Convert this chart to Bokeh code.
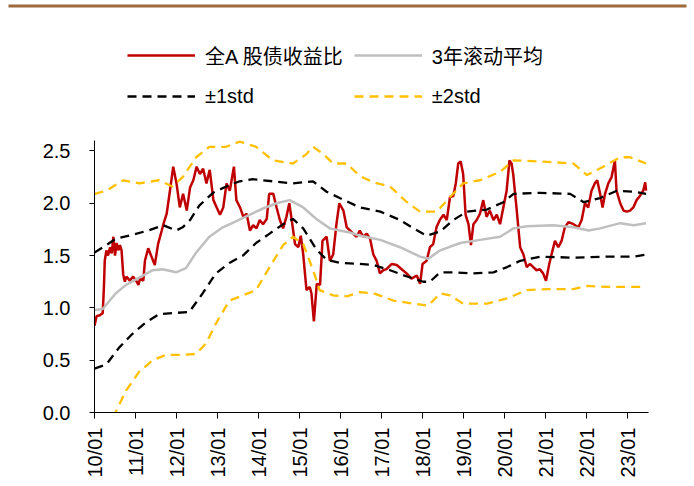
from math import pi
from bokeh.plotting import figure
from bokeh.layouts import column
from bokeh.models import (FixedTicker, Legend, LegendItem, BoxAnnotation,
                          PrintfTickFormatter, Range1d)
from bokeh.embed import file_html
from bokeh.resources import INLINE

# ---------------- data ----------------
year_ticks = [2010, 2011, 2012, 2013, 2014, 2015, 2016, 2017, 2018, 2019, 2020, 2021, 2022, 2023]
year_labels = ["10/01", "11/01", "12/01", "13/01", "14/01", "15/01", "16/01",
               "17/01", "18/01", "19/01", "20/01", "21/01", "22/01", "23/01"]
y_ticks = [0.0, 0.5, 1.0, 1.5, 2.0, 2.5]

# 全A 股债收益比
ratio_t = [2010.00, 2010.05, 2010.13, 2010.20, 2010.23, 2010.25, 2010.29, 2010.33, 2010.38, 2010.42,
           2010.46, 2010.50, 2010.54, 2010.58, 2010.62, 2010.66, 2010.70, 2010.74, 2010.78, 2010.86,
           2010.94, 2011.03, 2011.07, 2011.11, 2011.19, 2011.23, 2011.31, 2011.39, 2011.47, 2011.55,
           2011.64, 2011.68, 2011.76, 2011.84, 2011.92, 2012.00, 2012.08, 2012.16, 2012.25, 2012.33,
           2012.41, 2012.49, 2012.57, 2012.65, 2012.73, 2012.81, 2012.90, 2012.98, 2013.06, 2013.14,
           2013.22, 2013.30, 2013.40, 2013.46, 2013.55, 2013.63, 2013.71, 2013.79, 2013.87, 2013.95,
           2014.03, 2014.11, 2014.20, 2014.26, 2014.36, 2014.44, 2014.52, 2014.60, 2014.68, 2014.75,
           2014.81, 2014.89, 2014.97, 2015.03, 2015.09, 2015.17, 2015.25, 2015.29, 2015.35, 2015.42,
           2015.50, 2015.56, 2015.66, 2015.74, 2015.82, 2015.90, 2015.97, 2016.07, 2016.15, 2016.23,
           2016.31, 2016.39, 2016.47, 2016.55, 2016.64, 2016.72, 2016.80, 2016.88, 2016.96, 2017.04,
           2017.12, 2017.25, 2017.37, 2017.49, 2017.61, 2017.73, 2017.86, 2017.94, 2018.00, 2018.10,
           2018.18, 2018.26, 2018.34, 2018.42, 2018.51, 2018.59, 2018.67, 2018.75, 2018.81, 2018.87,
           2018.93, 2018.99, 2019.05, 2019.12, 2019.18, 2019.24, 2019.32, 2019.40, 2019.48, 2019.56,
           2019.64, 2019.73, 2019.81, 2019.89, 2019.97, 2020.05, 2020.12, 2020.17, 2020.21, 2020.29,
           2020.38, 2020.46, 2020.54, 2020.62, 2020.70, 2020.78, 2020.86, 2020.94, 2021.01, 2021.09,
           2021.17, 2021.23, 2021.31, 2021.39, 2021.47, 2021.56, 2021.68, 2021.80, 2021.88, 2021.96,
           2022.04, 2022.12, 2022.20, 2022.26, 2022.33, 2022.39, 2022.45, 2022.53, 2022.61, 2022.69,
           2022.73, 2022.82, 2022.90, 2022.98, 2023.06, 2023.14, 2023.22, 2023.30, 2023.38, 2023.43,
           2023.45]
ratio_v = [0.83, 0.92, 0.93, 0.95, 1.20, 1.45, 1.55, 1.50, 1.58, 1.52,
           1.68, 1.50, 1.62, 1.55, 1.60, 1.55, 1.32, 1.25, 1.30, 1.26,
           1.30, 1.25, 1.22, 1.28, 1.26, 1.45, 1.57, 1.49, 1.41, 1.61,
           1.74, 1.80, 1.90, 2.12, 2.35, 2.19, 1.96, 2.09, 1.93, 2.15,
           2.22, 2.35, 2.28, 2.33, 2.19, 2.32, 2.03, 1.96, 1.89, 1.96,
           2.19, 2.12, 2.35, 2.03, 1.96, 1.87, 1.90, 1.74, 1.79, 1.76,
           1.84, 1.80, 1.85, 2.09, 2.09, 1.96, 1.84, 1.76, 1.87, 2.00,
           1.84, 1.61, 1.58, 1.69, 1.51, 1.17, 1.20, 1.14, 0.87, 1.23,
           1.22, 1.64, 1.68, 1.45, 1.51, 1.80, 2.00, 1.93, 1.77, 1.74,
           1.71, 1.68, 1.74, 1.68, 1.71, 1.66, 1.51, 1.45, 1.33, 1.36,
           1.37, 1.42, 1.41, 1.37, 1.33, 1.28, 1.31, 1.23, 1.42, 1.45,
           1.58, 1.61, 1.77, 1.84, 1.89, 1.84, 2.06, 2.07, 2.19, 2.38,
           2.40, 2.28, 1.89, 1.80, 1.60, 1.80, 1.84, 1.90, 2.03, 1.87,
           1.93, 1.84, 1.89, 1.80, 1.96, 2.12, 2.41, 2.38, 2.28, 1.96,
           1.58, 1.51, 1.39, 1.42, 1.39, 1.36, 1.37, 1.33, 1.26, 1.42,
           1.55, 1.64, 1.58, 1.64, 1.77, 1.82, 1.80, 1.77, 1.84, 2.00,
           1.96, 2.12, 2.19, 2.22, 2.09, 1.96, 2.09, 2.19, 2.25, 2.41,
           2.12, 2.00, 1.93, 1.92, 1.93, 1.96, 2.03, 2.07, 2.12, 2.20,
           2.12]

# 3年滚动平均
avg_t = [2010.00, 2010.20, 2010.52, 2010.77, 2011.09, 2011.42, 2011.66, 2011.99, 2012.23, 2012.48,
         2012.80, 2013.13, 2013.46, 2013.78, 2014.11, 2014.44, 2014.76, 2015.09, 2015.41, 2015.74,
         2015.98, 2016.23, 2016.48, 2016.97, 2017.45, 2017.94, 2018.14, 2018.43, 2018.92, 2019.40,
         2019.89, 2020.22, 2020.54, 2021.19, 2021.68, 2022.05, 2022.33, 2022.82, 2023.15, 2023.45]
avg_v = [0.98, 0.99, 1.14, 1.22, 1.29, 1.36, 1.37, 1.34, 1.38, 1.53,
         1.68, 1.77, 1.83, 1.89, 1.95, 2.00, 2.03, 1.96, 1.85, 1.76,
         1.74, 1.72, 1.69, 1.65, 1.58, 1.49, 1.47, 1.55, 1.62, 1.65,
         1.68, 1.76, 1.78, 1.79, 1.77, 1.74, 1.76, 1.81, 1.79, 1.81]

# +1std / -1std
up1_t = [2010.00, 2010.29, 2010.52, 2010.94, 2011.31, 2011.68, 2011.99, 2012.15, 2012.33, 2012.56,
         2012.89, 2013.21, 2013.54, 2013.86, 2014.35, 2014.84, 2015.33, 2015.66, 2015.98, 2016.47,
         2016.97, 2017.45, 2017.78, 2018.10, 2018.43, 2018.75, 2019.08, 2019.57, 2019.97, 2020.22,
         2020.87, 2021.60, 2021.93, 2022.33, 2022.74, 2023.15, 2023.45]
up1_v = [1.53, 1.60, 1.66, 1.70, 1.74, 1.79, 1.74, 1.77, 1.84, 1.98,
         2.10, 2.16, 2.21, 2.23, 2.21, 2.19, 2.21, 2.11, 2.05, 1.96,
         1.92, 1.84, 1.76, 1.69, 1.73, 1.84, 1.92, 1.94, 2.01, 2.09,
         2.10, 2.09, 2.01, 2.05, 2.12, 2.11, 2.09]
dn1_t = [2010.00, 2010.29, 2010.60, 2010.92, 2011.25, 2011.57, 2011.90, 2012.31, 2012.64, 2012.96,
         2013.29, 2013.62, 2013.94, 2014.27, 2014.60, 2014.84, 2015.09, 2015.41, 2015.66, 2015.98,
         2016.47, 2016.80, 2017.21, 2017.62, 2018.02, 2018.18, 2018.43, 2018.75, 2019.24, 2019.73,
         2020.06, 2020.38, 2020.87, 2021.68, 2022.49, 2023.15, 2023.45]
dn1_v = [0.42, 0.46, 0.62, 0.75, 0.86, 0.94, 0.95, 0.96, 1.14, 1.33,
         1.43, 1.50, 1.62, 1.71, 1.80, 1.85, 1.76, 1.56, 1.46, 1.43,
         1.42, 1.41, 1.36, 1.30, 1.25, 1.25, 1.34, 1.34, 1.33, 1.34,
         1.39, 1.45, 1.49, 1.48, 1.49, 1.49, 1.51]

# +2std / -2std
up2_t = [2010.00, 2010.29, 2010.70, 2011.09, 2011.57, 2011.90, 2012.15, 2012.48, 2012.80, 2013.21,
         2013.54, 2013.94, 2014.35, 2014.84, 2015.17, 2015.33, 2015.58, 2015.82, 2016.15, 2016.47,
         2016.80, 2017.21, 2017.62, 2017.94, 2018.35, 2018.67, 2018.99, 2019.40, 2019.89, 2020.22,
         2020.87, 2021.68, 2022.01, 2022.41, 2022.82, 2023.06, 2023.45]
up2_v = [2.09, 2.12, 2.22, 2.19, 2.22, 2.16, 2.25, 2.44, 2.54, 2.54,
         2.59, 2.54, 2.41, 2.38, 2.47, 2.54, 2.47, 2.38, 2.38, 2.26,
         2.20, 2.16, 2.01, 1.92, 1.92, 2.06, 2.19, 2.22, 2.30, 2.41,
         2.40, 2.38, 2.27, 2.35, 2.44, 2.44, 2.38]
dn2_t = [2010.45, 2010.77, 2011.09, 2011.42, 2011.74, 2012.07, 2012.48, 2012.72, 2012.96, 2013.29,
         2013.62, 2013.94, 2014.27, 2014.60, 2014.84, 2015.09, 2015.33, 2015.49, 2015.82, 2016.15,
         2016.47, 2016.80, 2017.29, 2017.78, 2018.14, 2018.43, 2018.67, 2018.99, 2019.57, 2020.06,
         2020.54, 2021.03, 2021.68, 2022.01, 2022.49, 2022.98, 2023.45]
dn2_v = [-0.05, 0.21, 0.39, 0.50, 0.55, 0.55, 0.56, 0.66, 0.85, 1.07,
         1.12, 1.17, 1.39, 1.60, 1.68, 1.61, 1.36, 1.17, 1.12, 1.11,
         1.15, 1.14, 1.07, 1.04, 1.02, 1.14, 1.12, 1.04, 1.04, 1.09,
         1.17, 1.18, 1.18, 1.21, 1.20, 1.20, 1.20]

series_labels = ["全A 股债收益比", "3年滚动平均", "±1std", "±2std"]

# ---------------- styles ----------------
W = 692
LEG_H = 120
MAIN_H = 364
RED = dict(line_color="#C00000", line_width=2.5)
GRAY = dict(line_color="#BFBFBF", line_width=2.5)
BLACK = dict(line_color="black", line_width=2.3, line_dash="9 6")
GOLD = dict(line_color="#FFC000", line_width=2.3, line_dash="9 6")

# ---------------- main chart ----------------
p = figure(width=W, height=MAIN_H, output_backend="svg", toolbar_location=None,
           x_range=Range1d(2010.0, 2023.51), y_range=Range1d(0, 2.6),
           min_border_left=94, min_border_right=W - 648, min_border_top=20,
           min_border_bottom=MAIN_H - 20 - 272,
           background_fill_color="white", border_fill_color="white")
p.frame_align = False
p.outline_line_color = None
p.xgrid.visible = False
p.ygrid.visible = False

p.line(ratio_t, ratio_v, **RED)
p.line(avg_t, avg_v, **GRAY)
p.line(up1_t, up1_v, **BLACK)
p.line(dn1_t, dn1_v, **BLACK)
p.line(up2_t, up2_v, **GOLD)
p.line(dn2_t, dn2_v, **GOLD)

xa = p.xaxis[0]
xa.ticker = FixedTicker(ticks=year_ticks)
xa.major_label_overrides = {t: l for t, l in zip(year_ticks, year_labels)}
xa.major_label_orientation = pi / 2
xa.major_tick_in = 0
xa.major_tick_out = 6
xa.minor_tick_out = 0
xa.minor_tick_in = 0
xa.major_label_standoff = 9
xa.axis_line_color = "black"
xa.major_tick_line_color = "black"
xa.major_label_text_font = "Liberation Sans"
xa.major_label_text_font_size = "20px"
xa.major_label_text_color = "black"

ya = p.yaxis[0]
ya.ticker = FixedTicker(ticks=y_ticks)
ya.formatter = PrintfTickFormatter(format="%.1f")
ya.major_tick_in = 0
ya.major_tick_out = 5
ya.minor_tick_out = 0
ya.minor_tick_in = 0
ya.major_label_standoff = 19
ya.axis_line_color = "black"
ya.major_tick_line_color = "black"
ya.major_label_text_font = "Liberation Sans"
ya.major_label_text_font_size = "20px"
ya.major_label_text_color = "black"

# ---------------- header (rule + legend) ----------------
h = figure(width=W, height=LEG_H, output_backend="svg", toolbar_location=None,
           x_range=Range1d(0, W), y_range=Range1d(0, LEG_H),
           x_axis_location=None, y_axis_location=None,
           min_border=0, background_fill_color="white", border_fill_color="white")
h.frame_align = False
h.outline_line_color = None
h.xgrid.visible = False
h.ygrid.visible = False

# legend sample renderers (kept outside the visible header range)
r_red = h.line([-20, -10], [-20, -20], **RED)
r_gray = h.line([-20, -10], [-20, -20], **GRAY)
r_black = h.line([-20, -10], [-20, -20], **BLACK)
r_gold = h.line([-20, -10], [-20, -20], **GOLD)

legend = Legend(items=[LegendItem(label=series_labels[0], renderers=[r_red]),
                       LegendItem(label=series_labels[1], renderers=[r_gray]),
                       LegendItem(label=series_labels[2], renderers=[r_black]),
                       LegendItem(label=series_labels[3], renderers=[r_gold])],
                location=(127, 9), orientation="horizontal", ncols=2,
                glyph_width=68, glyph_height=30, label_height=30,
                label_standoff=10, spacing=11, padding=0, margin=0,
                border_line_color=None, background_fill_alpha=0,
                label_text_font="Liberation Sans, Noto Sans CJK SC",
                label_text_font_size="20px", label_text_color="black")
h.add_layout(legend, "center")

rule = BoxAnnotation(left=8, right=686, top=LEG_H - 4, bottom=LEG_H - 7,
                     fill_color="#9E6A3B", fill_alpha=1.0, line_color=None)
h.add_layout(rule)

layout = column(h, p, spacing=0)
open("out.html", "w").write(file_html(layout, INLINE))
